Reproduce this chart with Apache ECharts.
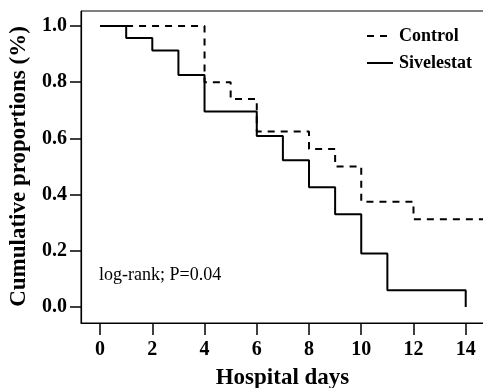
<!DOCTYPE html>
<html>
<head>
<meta charset="utf-8">
<script src="https://cdn.jsdelivr.net/npm/echarts@6/dist/echarts.min.js"></script>
<style>
  html, body { margin: 0; padding: 0; background: #fff; }
  #chart { width: 483px; height: 388px; }
</style>
</head>
<body>
<div id="chart"></div>
<script>
// Kaplan–Meier style step curves: [day, cumulative proportion]
const controlDays = [0, 4, 5, 6, 8, 9, 10, 12, 14.7];
const controlValues = [1.0, 0.8, 0.74, 0.625, 0.5625, 0.5, 0.375, 0.3125, 0.3125];
const sivelestatDays = [0, 1, 2, 3, 4, 6, 7, 8, 9, 10, 11, 14];
const sivelestatValues = [1.0, 0.957, 0.913, 0.826, 0.696, 0.609, 0.522, 0.426, 0.33, 0.19, 0.06, 0.0];

const xTicks = [0, 2, 4, 6, 8, 10, 12, 14];
const yTickStep = 0.2;

const seriesNames = ['Control', 'Sivelestat'];
const annotation = 'log-rank; P=0.04';

const serif = '"Liberation Serif", "Times New Roman", serif';

const zip = (xs, ys) => xs.map((x, i) => [x, ys[i]]);

const chart = echarts.init(document.getElementById('chart'), null, { renderer: 'canvas' });

chart.setOption({
  animation: false,
  backgroundColor: '#fff',
  grid: [
    // plotting frame (padded slightly beyond the data range)
    {
      left: 81, top: 11, right: -1, bottom: 65,
      outerBoundsMode: 'none', containLabel: false,
      show: true, borderColor: '#000', borderWidth: 1, backgroundColor: 'transparent'
    },
    // band spanning exactly 0..1 on the vertical scale, carries the y ticks
    {
      left: 81, top: 26, right: -1, bottom: 81,
      outerBoundsMode: 'none', containLabel: false, show: false
    }
  ],
  legend: {
    orient: 'vertical',
    left: 361, top: 22,
    itemWidth: 26, itemHeight: 14, itemGap: 9,
    data: seriesNames,
    itemStyle: { color: 'transparent', borderWidth: 0, opacity: 0 },
    textStyle: { fontFamily: serif, fontWeight: 'bold', fontSize: 18, color: '#000', padding: [0, 0, 0, 1] }
  },
  xAxis: [
    {
      gridIndex: 0,
      type: 'value',
      min: -0.73, max: 14.7,
      name: 'Hospital days',
      nameLocation: 'middle',
      nameGap: 44,
      nameMoveOverlap: false,
      nameTextStyle: { fontFamily: serif, fontWeight: 'bold', fontSize: 23, color: '#000' },
      splitLine: { show: false },
      axisLine: { show: true, onZero: false, lineStyle: { color: '#000', width: 1.2 } },
      axisTick: { show: true, length: 12, customValues: xTicks, lineStyle: { color: '#000', width: 1.5 } },
      axisLabel: {
        customValues: xTicks, margin: 17,
        fontFamily: serif, fontWeight: 'bold', fontSize: 20, color: '#000'
      }
    },
    { gridIndex: 1, type: 'value', min: 0, max: 1, show: false }
  ],
  yAxis: [
    {
      gridIndex: 0,
      type: 'value',
      min: -0.0569, max: 1.0534,
      splitLine: { show: false },
      axisLine: { show: true, onZero: false, lineStyle: { color: '#000', width: 1.2 } },
      axisTick: { show: false },
      axisLabel: { show: false }
    },
    {
      gridIndex: 1,
      type: 'value',
      min: 0, max: 1, interval: yTickStep,
      name: 'Cumulative proportions (%)',
      nameLocation: 'middle',
      nameGap: 50,
      nameMoveOverlap: false,
      nameTextStyle: { fontFamily: serif, fontWeight: 'bold', fontSize: 23, color: '#000' },
      splitLine: { show: false },
      axisLine: { show: false },
      axisTick: { show: true, length: 11, lineStyle: { color: '#000', width: 1.5 } },
      axisLabel: {
        margin: 14,
        formatter: v => v.toFixed(1),
        fontFamily: serif, fontWeight: 'bold', fontSize: 20, color: '#000'
      }
    }
  ],
  graphic: [{
    type: 'text',
    left: 99, top: 266,
    style: { text: annotation, font: '18px ' + serif, fill: '#000' }
  }],
  series: [
    {
      name: seriesNames[0],
      type: 'line',
      xAxisIndex: 0, yAxisIndex: 0,
      step: 'end',
      symbol: 'none',
      data: zip(controlDays, controlValues),
      lineStyle: { color: '#000', width: 2, type: [7, 6] },
      itemStyle: { color: '#000' }
    },
    {
      name: seriesNames[1],
      type: 'line',
      xAxisIndex: 0, yAxisIndex: 0,
      step: 'end',
      symbol: 'none',
      data: zip(sivelestatDays, sivelestatValues),
      lineStyle: { color: '#000', width: 2, type: 'solid' },
      itemStyle: { color: '#000' }
    }
  ]
});
</script>
</body>
</html>
